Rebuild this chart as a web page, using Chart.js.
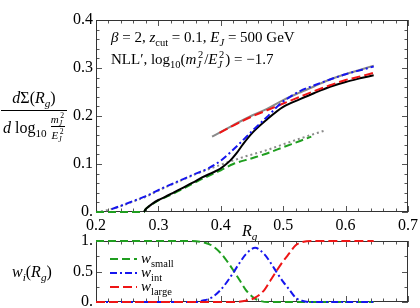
<!DOCTYPE html>
<html>
<head>
<meta charset="utf-8">
<script src="https://cdn.jsdelivr.net/npm/chart.js@4"></script>
<style>
  body { margin: 0; background: #fff; }
  canvas { position: absolute; left: 0; top: 0; }
</style>
</head>
<body>
<canvas id="top" width="420" height="308"></canvas>
<canvas id="bottom" width="420" height="308"></canvas>
<script>
// full NLL' distribution
const rgFull = [0.277, 0.279, 0.283, 0.29, 0.3, 0.31, 0.325, 0.34, 0.355, 0.37, 0.385, 0.395, 0.405, 0.415, 0.425, 0.436, 0.452, 0.474, 0.5, 0.527, 0.55, 0.575, 0.6, 0.625, 0.645];
const sigmaFull = [0, 0.005, 0.01, 0.017, 0.025, 0.031, 0.041, 0.051, 0.061, 0.072, 0.081, 0.087, 0.096, 0.107, 0.122, 0.142, 0.167, 0.193, 0.219, 0.235, 0.248, 0.261, 0.271, 0.279, 0.285];
// small-Rg (green dashed) and its gray dotted companion
const rgSmall = [0.2, 0.277, 0.279, 0.283, 0.29, 0.3, 0.31, 0.325, 0.34, 0.355, 0.37, 0.385, 0.4, 0.42, 0.45, 0.474, 0.5, 0.527, 0.545];
const sigmaSmall = [0, 0, 0.005, 0.01, 0.016, 0.024, 0.03, 0.039, 0.049, 0.059, 0.069, 0.078, 0.087, 0.1, 0.112, 0.122, 0.135, 0.148, 0.157];
const rgSmallAlt = [0.2, 0.215, 0.232, 0.25, 0.264, 0.28, 0.307, 0.33, 0.36, 0.38, 0.395, 0.41, 0.44, 0.474, 0.5, 0.527, 0.565];
const sigmaSmallAlt = [0, 0.003, 0.009, 0.017, 0.024, 0.032, 0.049, 0.062, 0.079, 0.089, 0.096, 0.103, 0.116, 0.129, 0.141, 0.153, 0.169];
// intermediate (blue dash-dot)
const rgInt = [0.225, 0.24, 0.264, 0.28, 0.307, 0.33, 0.36, 0.38, 0.4, 0.428, 0.452, 0.474, 0.495, 0.51, 0.527, 0.55, 0.575, 0.6, 0.625, 0.645];
const sigmaInt = [0.006, 0.013, 0.025, 0.033, 0.05, 0.063, 0.08, 0.091, 0.107, 0.14, 0.171, 0.198, 0.225, 0.239, 0.252, 0.264, 0.276, 0.287, 0.296, 0.303];
// large-Rg (red dashed) and gray solid companion
const rgLarge = [0.398, 0.42, 0.45, 0.474, 0.5, 0.525, 0.55, 0.575, 0.6, 0.625, 0.645];
const sigmaLarge = [0.165, 0.18, 0.199, 0.212, 0.226, 0.239, 0.252, 0.264, 0.275, 0.283, 0.29];
const rgLargeAlt = [0.386, 0.42, 0.45, 0.474, 0.5, 0.525, 0.55, 0.575, 0.6, 0.625, 0.645];
const sigmaLargeAlt = [0.157, 0.181, 0.201, 0.215, 0.233, 0.248, 0.262, 0.276, 0.287, 0.297, 0.305];
// weights
const rgWSmall = [0.2, 0.35, 0.37, 0.385, 0.4, 0.41, 0.42, 0.43, 0.44, 0.45, 0.46, 0.475, 0.645];
const wSmall = [1, 1, 0.98, 0.93, 0.8, 0.67, 0.52, 0.36, 0.2, 0.09, 0.03, 0, 0];
const rgWInt = [0.2, 0.36, 0.37, 0.385, 0.4, 0.41, 0.42, 0.43, 0.44, 0.455, 0.47, 0.48, 0.49, 0.5, 0.51, 0.52, 0.53, 0.545, 0.645];
const wInt = [0, 0, 0.02, 0.07, 0.2, 0.33, 0.48, 0.64, 0.78, 0.89, 0.78, 0.64, 0.48, 0.33, 0.2, 0.07, 0.02, 0, 0];
const rgWLarge = [0.2, 0.42, 0.44, 0.455, 0.47, 0.48, 0.49, 0.5, 0.51, 0.52, 0.53, 0.545, 0.645];
const wLarge = [0, 0, 0.02, 0.07, 0.2, 0.36, 0.52, 0.67, 0.8, 0.93, 0.98, 1, 1];

const SERIF = '"Liberation Serif", "DejaVu Serif", serif';
const GREEN = '#1f9e1f', BLUE = '#1515ee', RED = '#ee1515', GRAY = '#8a8a8a';

const pts = (xs, ys) => xs.map((x, i) => ({ x, y: ys[i] }));

function line(label, xs, ys, color, dash, order) {
  return {
    label, data: pts(xs, ys), borderColor: color, borderDash: dash, borderWidth: 2,
    pointRadius: 0, fill: false, cubicInterpolationMode: 'monotone', clip: 3, order
  };
}

// draws text with italic / sub / sup pieces
function rich(ctx, x, y, parts, fs, draw) {
  let cx = x;
  for (const [t, k] of parts) {
    if (k === 'ps') {
      const [a, b] = t.split('|');
      ctx.font = `${fs * 0.7}px ${SERIF}`;
      const wa = ctx.measureText(a).width;
      if (draw) ctx.fillText(a, cx + 1.5, y - fs * 0.42);
      ctx.font = `italic ${fs * 0.7}px ${SERIF}`;
      const wb = ctx.measureText(b).width;
      if (draw) ctx.fillText(b, cx, y + fs * 0.27);
      cx += Math.max(wa + 1.5, wb) + 1;
      continue;
    }
    const small = k.includes('_') || k.includes('^');
    const size = small ? fs * 0.7 : fs;
    ctx.font = `${k.includes('i') ? 'italic ' : ''}${size}px ${SERIF}`;
    const dy = k.includes('_') ? fs * 0.27 : k.includes('^') ? -fs * 0.42 : 0;
    if (draw) ctx.fillText(t, cx, y + dy);
    cx += ctx.measureText(t).width;
  }
  return cx - x;
}
function richAt(ctx, x, y, parts, fs, center) {
  if (center) x -= rich(ctx, x, y, parts, fs, false) / 2;
  rich(ctx, x, y, parts, fs, true);
}

const frameTicks = {
  id: 'frameTicks',
  beforeDatasetsDraw(chart, args, o) {
    const { ctx, chartArea: a, scales: { x, y } } = chart;
    ctx.save();
    ctx.strokeStyle = '#555';
    ctx.lineWidth = 1;
    ctx.beginPath();
    const nx = Math.round((x.max - x.min) / o.xMinor);
    for (let i = 0; i <= nx; i++) {
      const v = x.min + i * o.xMinor;
      const len = Math.abs(v / o.xMajor - Math.round(v / o.xMajor)) < 1e-6 ? 6 : 3.5;
      const px = Math.round(x.getPixelForValue(v)) + 0.5;
      ctx.moveTo(px, a.bottom); ctx.lineTo(px, a.bottom - len);
      ctx.moveTo(px, a.top); ctx.lineTo(px, a.top + len);
    }
    const ny = Math.round((y.max - y.min) / o.yMinor);
    for (let i = 0; i <= ny; i++) {
      const v = y.min + i * o.yMinor;
      const len = Math.abs(v / o.yMajor - Math.round(v / o.yMajor)) < 1e-6 ? 6 : 3.5;
      const py = Math.round(y.getPixelForValue(v)) + 0.5;
      ctx.moveTo(a.left, py); ctx.lineTo(a.left + len, py);
      ctx.moveTo(a.right, py); ctx.lineTo(a.right - len, py);
    }
    ctx.stroke();
    ctx.strokeStyle = '#333';
    ctx.strokeRect(a.left + 0.5, a.top + 0.5, a.width - 1, a.height - 1);
    ctx.restore();
  },
  afterDraw(chart, args, o) {
    if (o.texts) o.texts(chart.ctx, chart);
  }
};

function yAxis(min, max, step) {
  return {
    type: 'linear', min, max,
    grid: { display: false, drawTicks: false }, border: { display: false },
    ticks: {
      stepSize: step, padding: 3, color: '#000', font: { family: SERIF, size: 16 },
      callback: v => v === 0 ? '0.' : (v === 1 ? '1.' : v.toFixed(1))
    },
    afterFit: s => { s.width = 96; s.paddingTop = 0; s.paddingBottom = 0; }
  };
}

new Chart(document.getElementById('top'), {
  type: 'line',
  data: {
    datasets: [
      line('small alt', rgSmallAlt, sigmaSmallAlt, GRAY, [2, 3], 6),
      line('large alt', rgLargeAlt, sigmaLargeAlt, GRAY, [], 5),
      line('small', rgSmall, sigmaSmall, GREEN, [8, 4], 4),
      line('full', rgFull, sigmaFull, '#000', [], 3),
      line('large', rgLarge, sigmaLarge, RED, [9, 4], 2),
      line('int', rgInt, sigmaInt, BLUE, [7, 3, 2, 3], 1)
    ]
  },
  options: {
    responsive: false, animation: false,
    layout: { padding: { left: 0, right: 12, top: 20, bottom: 68 } },
    plugins: {
      legend: { display: false }, tooltip: { enabled: false },
      frameTicks: {
        xMinor: 0.02, xMajor: 0.1, yMinor: 0.02, yMajor: 0.1,
        texts: (ctx) => {
          ctx.save();
          ctx.fillStyle = '#000';
          ctx.textBaseline = 'alphabetic';
          rich(ctx, 111, 42, [['β', 'i'], [' = 2, ', 'r'], ['z', 'i'], ['cut', '_'], [' = 0.1, ', 'r'],
            ['E', 'i'], ['J', '_i'], [' = 500 GeV', 'r']], 15, true);
          rich(ctx, 111, 64, [['NLL′, log', 'r'], ['10', '_'], ['(', 'r'], ['m', 'i'], ['2|J', 'ps'], ['/', 'r'],
            ['E', 'i'], ['2|J', 'ps'], [') = −1.7', 'r']], 15, true);
          // x title
          rich(ctx, 242, 236, [['R', 'i'], ['g', '_i']], 16, true);
          // y title fraction
          richAt(ctx, 34, 103, [['d', 'i'], ['Σ(', 'r'], ['R', 'i'], ['g', '_i'], [')', 'r']], 16, true);
          ctx.fillRect(1, 110, 66, 1);
          rich(ctx, 3, 133, [['d', 'i'], [' log', 'r'], ['10', '_']], 16, true);
          richAt(ctx, 58, 123, [['m', 'i'], ['2|J', 'ps']], 11, true);
          ctx.fillRect(51, 126, 14, 1);
          richAt(ctx, 58, 139, [['E', 'i'], ['2|J', 'ps']], 11, true);
          ctx.restore();
        }
      }
    },
    scales: {
      x: {
        type: 'linear', min: 0.2, max: 0.7,
        grid: { display: false, drawTicks: false }, border: { display: false },
        ticks: { stepSize: 0.1, padding: 4, color: '#000', font: { family: SERIF, size: 16 }, callback: v => v.toFixed(1) },
        afterFit: s => { s.height = 28; s.paddingLeft = 0; s.paddingRight = 0; }
      },
      y: yAxis(0, 0.4, 0.1)
    }
  },
  plugins: [frameTicks]
});

new Chart(document.getElementById('bottom'), {
  type: 'line',
  data: {
    datasets: [
      line('small', rgWSmall, wSmall, GREEN, [8, 4], 3),
      line('int', rgWInt, wInt, BLUE, [7, 3, 2, 3], 2),
      line('large', rgWLarge, wLarge, RED, [9, 4], 1)
    ]
  },
  options: {
    responsive: false, animation: false,
    layout: { padding: { left: 0, right: 12, top: 241, bottom: 6 } },
    plugins: {
      legend: { display: false }, tooltip: { enabled: false },
      frameTicks: {
        xMinor: 0.02, xMajor: 0.1, yMinor: 0.25, yMajor: 0.5,
        texts: (ctx, chart) => {
          ctx.save();
          ctx.fillStyle = '#000';
          rich(ctx, 12, 277, [['w', 'i'], ['i', '_i'], ['(', 'r'], ['R', 'i'], ['g', '_i'], [')', 'r']], 16, true);
          const names = ['small', 'int', 'large'];
          chart.data.datasets.forEach((d, i) => {
            const yy = 259 + i * 14;
            ctx.strokeStyle = d.borderColor;
            ctx.lineWidth = 2;
            ctx.setLineDash(d.borderDash);
            ctx.beginPath();
            ctx.moveTo(110, yy); ctx.lineTo(137, yy);
            ctx.stroke();
            ctx.setLineDash([]);
            rich(ctx, 141, yy + 4, [['w', 'i'], [names[i], '_']], 15, true);
          });
          ctx.restore();
        }
      }
    },
    scales: {
      x: { type: 'linear', min: 0.2, max: 0.7, display: false },
      y: yAxis(0, 1, 0.5)
    }
  },
  plugins: [frameTicks]
});
</script>
</body>
</html>
